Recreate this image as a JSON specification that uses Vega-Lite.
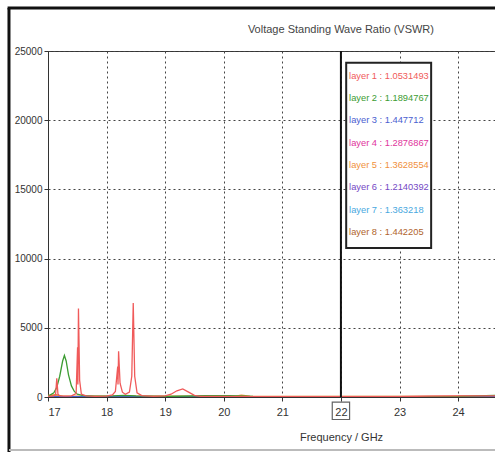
{
  "$schema": "https://vega.github.io/schema/vega-lite/v6.json",
  "width": 447,
  "height": 346,
  "autosize": {"type": "none"},
  "padding": {"left": 48, "top": 51, "right": 0, "bottom": 55},
  "background": "white",
  "config": {
    "view": {"stroke": "#333", "strokeWidth": 1},
    "axis": {"labelFont": "Liberation Sans, sans-serif", "titleFont": "Liberation Sans, sans-serif", "labelColor": "#333", "titleColor": "#333", "domainColor": "#333", "tickColor": "#333", "gridColor": "#444", "gridDash": [2, 3], "gridWidth": 1, "tickSize": 4}
  },
  "datasets": {
    "one": [{}],
    "titles": [{"t": "Voltage Standing Wave Ratio (VSWR)"}],
    "curves": [
      {"layer": "layer 8", "f": 17.0, "v": 80}, {"layer": "layer 8", "f": 17.15, "v": 150}, {"layer": "layer 8", "f": 17.25, "v": 50}, {"layer": "layer 8", "f": 20.0, "v": 30}, {"layer": "layer 8", "f": 24.63, "v": 40},
      {"layer": "layer 7", "f": 17.0, "v": 20}, {"layer": "layer 7", "f": 24.63, "v": 20},
      {"layer": "layer 6", "f": 17.0, "v": 30}, {"layer": "layer 6", "f": 24.63, "v": 30},
      {"layer": "layer 5", "f": 17.0, "v": 120}, {"layer": "layer 5", "f": 17.1, "v": 150}, {"layer": "layer 5", "f": 17.2, "v": 60}, {"layer": "layer 5", "f": 20.2, "v": 60}, {"layer": "layer 5", "f": 20.3, "v": 130}, {"layer": "layer 5", "f": 20.45, "v": 60}, {"layer": "layer 5", "f": 24.0, "v": 40}, {"layer": "layer 5", "f": 24.63, "v": 40},
      {"layer": "layer 4", "f": 17.0, "v": 25}, {"layer": "layer 4", "f": 24.63, "v": 25},
      {"layer": "layer 3", "f": 17.0, "v": 20}, {"layer": "layer 3", "f": 24.63, "v": 20},
      {"layer": "layer 2", "f": 17.0, "v": 50}, {"layer": "layer 2", "f": 17.1, "v": 300}, {"layer": "layer 2", "f": 17.15, "v": 700}, {"layer": "layer 2", "f": 17.2, "v": 1500}, {"layer": "layer 2", "f": 17.25, "v": 2600}, {"layer": "layer 2", "f": 17.28, "v": 3000}, {"layer": "layer 2", "f": 17.31, "v": 2600}, {"layer": "layer 2", "f": 17.35, "v": 1600}, {"layer": "layer 2", "f": 17.4, "v": 800}, {"layer": "layer 2", "f": 17.45, "v": 400}, {"layer": "layer 2", "f": 17.5, "v": 200}, {"layer": "layer 2", "f": 17.6, "v": 100}, {"layer": "layer 2", "f": 17.8, "v": 60}, {"layer": "layer 2", "f": 18.1, "v": 80}, {"layer": "layer 2", "f": 18.3, "v": 120}, {"layer": "layer 2", "f": 18.5, "v": 80}, {"layer": "layer 2", "f": 19.0, "v": 40}, {"layer": "layer 2", "f": 19.7, "v": 90}, {"layer": "layer 2", "f": 20.1, "v": 90}, {"layer": "layer 2", "f": 20.5, "v": 40}, {"layer": "layer 2", "f": 22.0, "v": 30}, {"layer": "layer 2", "f": 24.0, "v": 40}, {"layer": "layer 2", "f": 24.63, "v": 120},
      {"layer": "layer 1", "f": 17.0, "v": 50}, {"layer": "layer 1", "f": 17.1, "v": 80}, {"layer": "layer 1", "f": 17.13, "v": 200}, {"layer": "layer 1", "f": 17.15, "v": 1350}, {"layer": "layer 1", "f": 17.17, "v": 200}, {"layer": "layer 1", "f": 17.2, "v": 80}, {"layer": "layer 1", "f": 17.3, "v": 60}, {"layer": "layer 1", "f": 17.4, "v": 80}, {"layer": "layer 1", "f": 17.48, "v": 250}, {"layer": "layer 1", "f": 17.505, "v": 3600}, {"layer": "layer 1", "f": 17.51, "v": 900}, {"layer": "layer 1", "f": 17.52, "v": 6400}, {"layer": "layer 1", "f": 17.54, "v": 1200}, {"layer": "layer 1", "f": 17.57, "v": 200}, {"layer": "layer 1", "f": 17.65, "v": 80}, {"layer": "layer 1", "f": 17.8, "v": 50}, {"layer": "layer 1", "f": 18.0, "v": 60}, {"layer": "layer 1", "f": 18.1, "v": 150}, {"layer": "layer 1", "f": 18.15, "v": 400}, {"layer": "layer 1", "f": 18.19, "v": 2200}, {"layer": "layer 1", "f": 18.195, "v": 900}, {"layer": "layer 1", "f": 18.205, "v": 3300}, {"layer": "layer 1", "f": 18.23, "v": 1000}, {"layer": "layer 1", "f": 18.27, "v": 350}, {"layer": "layer 1", "f": 18.32, "v": 200}, {"layer": "layer 1", "f": 18.39, "v": 350}, {"layer": "layer 1", "f": 18.43, "v": 1500}, {"layer": "layer 1", "f": 18.455, "v": 6800}, {"layer": "layer 1", "f": 18.48, "v": 1500}, {"layer": "layer 1", "f": 18.52, "v": 300}, {"layer": "layer 1", "f": 18.6, "v": 100}, {"layer": "layer 1", "f": 18.8, "v": 50}, {"layer": "layer 1", "f": 19.0, "v": 80}, {"layer": "layer 1", "f": 19.1, "v": 200}, {"layer": "layer 1", "f": 19.2, "v": 450}, {"layer": "layer 1", "f": 19.3, "v": 580}, {"layer": "layer 1", "f": 19.4, "v": 350}, {"layer": "layer 1", "f": 19.5, "v": 120}, {"layer": "layer 1", "f": 19.6, "v": 50}, {"layer": "layer 1", "f": 20.0, "v": 40}, {"layer": "layer 1", "f": 20.5, "v": 30}, {"layer": "layer 1", "f": 21.0, "v": 30}, {"layer": "layer 1", "f": 22.0, "v": 30}, {"layer": "layer 1", "f": 23.0, "v": 30}, {"layer": "layer 1", "f": 23.5, "v": 60}, {"layer": "layer 1", "f": 24.0, "v": 80}, {"layer": "layer 1", "f": 24.63, "v": 80}
    ],
    "legend": [
      {"layer": "layer 1", "label": "layer 1 : 1.0531493", "v": 23200},
      {"layer": "layer 2", "label": "layer 2 : 1.1894767", "v": 21590},
      {"layer": "layer 3", "label": "layer 3 : 1.447712", "v": 19980},
      {"layer": "layer 4", "label": "layer 4 : 1.2876867", "v": 18370},
      {"layer": "layer 5", "label": "layer 5 : 1.3628554", "v": 16760},
      {"layer": "layer 6", "label": "layer 6 : 1.2140392", "v": 15150},
      {"layer": "layer 7", "label": "layer 7 : 1.363218", "v": 13540},
      {"layer": "layer 8", "label": "layer 8 : 1.442205", "v": 11930}
    ]
  },
  "layer": [
    {
      "data": {"name": "curves"},
      "mark": {"type": "line", "strokeWidth": 1.3, "clip": true, "interpolate": "linear"},
      "encoding": {
        "x": {"field": "f", "type": "quantitative", "scale": {"domain": [17, 24.63], "nice": false, "zero": false},
          "axis": {"values": [17, 18, 19, 20, 21, 22, 23, 24], "format": "d", "grid": true, "title": "Frequency / GHz", "titleFontSize": 11, "titleFontWeight": "normal", "titleX": 293, "titleY": 40, "titleBaseline": "middle", "labelFontSize": 11, "labelPadding": 5}},
        "y": {"field": "v", "type": "quantitative", "scale": {"domain": [0, 25000], "nice": false},
          "axis": {"values": [0, 5000, 10000, 15000, 20000, 25000], "format": "d", "grid": true, "title": null, "labelFontSize": 10, "labelPadding": 2}},
        "color": {"field": "layer", "type": "nominal", "legend": null,
          "scale": {"domain": ["layer 1", "layer 2", "layer 3", "layer 4", "layer 5", "layer 6", "layer 7", "layer 8"],
            "range": ["#f05a5a", "#3c9c32", "#4a5ed0", "#e0349c", "#f0903c", "#7448c4", "#48a8e0", "#b0642c"]}},
        "order": {"field": "layer", "sort": "descending"}
      }
    },
    {
      "data": {"name": "one"},
      "mark": {"type": "rule", "color": "#111", "strokeWidth": 2},
      "encoding": {"x": {"datum": 22}, "y": {"datum": 0}, "y2": {"datum": 25000}}
    },
    {
      "data": {"name": "one"},
      "mark": {"type": "rect", "fill": "white", "stroke": "#222", "strokeWidth": 2},
      "encoding": {"x": {"datum": 22.09}, "x2": {"datum": 23.54}, "y": {"datum": 24150}, "y2": {"datum": 10770}}
    },
    {
      "data": {"name": "legend"},
      "mark": {"type": "text", "align": "left", "baseline": "middle", "fontSize": 9.3, "font": "Liberation Sans, sans-serif"},
      "encoding": {
        "x": {"datum": 22.14},
        "y": {"field": "v", "type": "quantitative"},
        "text": {"field": "label"},
        "color": {"field": "layer", "type": "nominal", "legend": null}
      }
    },
    {
      "data": {"name": "titles"},
      "mark": {"type": "text", "align": "center", "baseline": "middle", "fontSize": 11, "color": "#444", "font": "Liberation Sans, sans-serif"},
      "encoding": {"x": {"datum": 22}, "y": {"datum": 26550}, "text": {"field": "t"}}
    },
    {
      "data": {"name": "one"},
      "mark": {"type": "point", "shape": "square", "size": 300, "filled": false, "stroke": "#222", "strokeWidth": 1.2},
      "encoding": {"x": {"datum": 22}, "y": {"datum": -1000}}
    },
    {
      "data": {"name": "one"},
      "mark": {"type": "rule", "color": "#111", "strokeWidth": 3},
      "encoding": {"x": {"datum": 16.334}, "y": {"datum": 28107}, "y2": {"datum": -4000}}
    },
    {
      "data": {"name": "one"},
      "mark": {"type": "rule", "color": "#111", "strokeWidth": 3},
      "encoding": {"x": {"datum": 16.31}, "x2": {"datum": 24.8}, "y": {"datum": 28107}}
    },
    {
      "data": {"name": "one"},
      "mark": {"type": "rule", "color": "#bbb", "strokeWidth": 2},
      "encoding": {"x": {"datum": 16.334}, "x2": {"datum": 24.8}, "y": {"datum": -3830}}
    }
  ]
}
